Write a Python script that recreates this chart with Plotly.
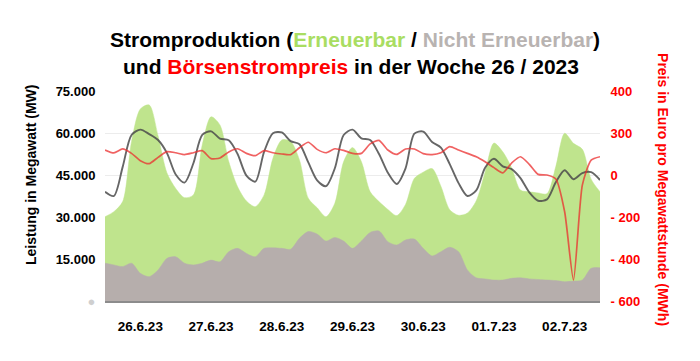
import pandas as pd
import plotly.graph_objects as go

# time axis: 3-hourly samples, week 26 / 2023
times = pd.date_range("2023-06-26 00:00", "2023-07-03 00:00", freq="3h")

day_ticks = pd.date_range("2023-06-26 12:00", periods=7, freq="D")
day_labels = ["26.6.23", "27.6.23", "28.6.23", "29.6.23", "30.6.23", "01.7.23", "02.7.23"]

# total production (renewable + non-renewable), thousand MW
total_k = [30.1, 31.9, 35.5, 56.9, 68.6, 70.0, 59.0, 45.8, 40.2, 36.9, 37.9, 55.7, 65.8, 62.9,
           49.8, 40.8, 35.7, 33.7, 37.9,
           51.0, 57.5, 57.0, 50.4, 36.7, 33.3, 30.1, 34.9, 49.8, 54.8, 49.8, 39.0, 35.5, 32.7,
           30.5, 34.5, 43.8, 46.0,
           47.3, 41.0, 32.6, 30.6, 31.4, 35.8, 46.0, 56.4, 53.3, 47.6, 39.6, 39.0, 38.6, 38.3,
           48.0, 59.9, 56.3, 54.2, 43.5, 39.0]

# non-renewable production, thousand MW
nonren_k = [13.5, 12.9, 12.3, 13.5, 9.9, 8.7, 11.1, 15.2, 15.8, 13.5, 12.9, 13.5, 14.6, 14.0,
            17.6, 18.8, 17.0, 15.8, 18.8,
            19.0, 18.8, 18.5, 22.4, 24.8, 23.9, 21.4, 22.7, 21.4, 18.8, 21.4, 24.5, 25.0, 21.2,
            20.0, 21.8, 22.1, 18.8,
            16.1, 17.6, 19.2, 17.6, 11.1, 8.3, 7.9, 7.5, 7.5, 8.1, 8.3, 7.9, 7.7, 7.5,
            7.3, 6.9, 7.1, 7.5, 11.7, 11.9]

# load / consumption, thousand MW
load_k = [39.0, 37.5, 47.9, 59.3, 61.2, 59.6, 57.5, 52.9, 45.2, 42.3, 49.2, 59.3, 60.6, 58.0,
          57.4, 52.5, 44.8, 42.6, 53.3,
          59.9, 60.2, 57.1, 56.0, 49.5, 43.1, 41.0, 47.4, 59.3, 61.2, 58.1, 57.5, 52.5, 45.8,
          41.8, 47.4, 59.8, 60.5,
          56.8, 54.8, 48.9, 42.1, 37.5, 39.5, 47.6, 50.8, 48.1, 47.1, 43.9, 38.8, 35.8, 36.3,
          42.4, 46.7, 43.5, 45.7, 46.0, 43.2]

# day-ahead price, EUR/MWh
price = [119, 105, 124, 103, 68, 54, 84, 111, 106, 97, 106, 116, 78, 81,
         110, 125, 103, 92, 116,
         106, 100, 97, 130, 156, 122, 106, 125, 117, 103, 103, 148, 165, 119,
         98, 124, 124, 102,
         97, 106, 135, 119, 103, 87, 63, 35, 10, 57, 87, 51, 3, 0,
         -19, -175, -500, -48, 71, 87]

left_ticks = [0, 15000, 30000, 45000, 60000, 75000]
left_labels = ['<span style="color:#cfcfcf">●</span>', "15.000", "30.000", "45.000", "60.000", "75.000"]
right_ticks = [-600, -400, -200, 0, 200, 400]
right_labels = ["- 600", "- 400", "- 200", "0", "300", "400"]

total = [v * 1000 for v in total_k]
nonren = [v * 1000 for v in nonren_k]
load = [v * 1000 for v in load_k]

FONT = "Liberation Sans, Arial, sans-serif"
GREEN = "rgb(191,228,141)"
GRAY = "rgb(182,174,172)"

fig = go.Figure()
fig.add_trace(go.Scatter(x=times, y=total, mode="lines", fill="tozeroy",
                         line=dict(color=GREEN, width=0.5, shape="spline", smoothing=0.8),
                         fillcolor=GREEN, hoverinfo="skip", showlegend=False))
fig.add_trace(go.Scatter(x=times, y=nonren, mode="lines", fill="tozeroy",
                         line=dict(color=GRAY, width=0.5, shape="spline", smoothing=0.8),
                         fillcolor=GRAY, hoverinfo="skip", showlegend=False))
fig.add_trace(go.Scatter(x=times, y=load, mode="lines",
                         line=dict(color="rgba(75,75,75,0.85)", width=1.9, shape="spline", smoothing=0.8),
                         showlegend=False))
fig.add_trace(go.Scatter(x=times, y=price, mode="lines", yaxis="y2",
                         line=dict(color="rgba(235,45,45,0.75)", width=1.7, shape="spline", smoothing=0.6),
                         showlegend=False))

fig.update_layout(
    width=700, height=361, autosize=False,
    margin=dict(l=105, r=100, t=91, b=60),
    paper_bgcolor="white", plot_bgcolor="white",
    font=dict(family=FONT, color="black"),
    xaxis=dict(type="date", range=[times[0], times[-1]], automargin=False,
               tickvals=list(day_ticks), ticktext=day_labels,
               tickfont=dict(size=13.5, family=FONT, color="black", weight="bold"),
               showgrid=False, zeroline=False,
               showline=True, linecolor="rgb(140,140,140)", linewidth=2,
               ticks="outside", ticklen=12, tickcolor="rgba(0,0,0,0)"),
    yaxis=dict(range=[0, 75000], tickvals=left_ticks, ticktext=left_labels, automargin=False,
               tickfont=dict(size=13, family=FONT, color="black", weight="bold"),
               showgrid=True, gridcolor="rgb(236,236,236)", gridwidth=1,
               zeroline=False, showline=False,
               ticks="outside", ticklen=6, tickcolor="rgba(0,0,0,0)"),
    yaxis2=dict(range=[-600, 400], overlaying="y", side="right", automargin=False,
                tickvals=right_ticks, ticktext=right_labels,
                tickfont=dict(size=13, family=FONT, color="red", weight="bold"),
                showgrid=False, zeroline=False, showline=False,
                ticks="outside", ticklen=7, tickcolor="rgba(0,0,0,0)"),
    annotations=[
        dict(xref="paper", yref="paper", x=0.505, y=1.243, xanchor="center", yanchor="middle",
             showarrow=False, font=dict(size=21, family=FONT, color="black"),
             text='<b>Stromproduktion (<span style="color:#a9dd62">Erneuerbar</span> / '
                  '<span style="color:#b8b3b1">Nicht Erneuerbar</span>)</b>'),
        dict(xref="paper", yref="paper", x=0.497, y=1.119, xanchor="center", yanchor="middle",
             showarrow=False, font=dict(size=21, family=FONT, color="black"),
             text='<b>und <span style="color:#ff0000">Börsenstrompreis</span> in der Woche 26 / 2023</b>'),
        dict(xref="paper", yref="paper", x=-0.1495, y=0.6, xanchor="center", yanchor="middle",
             showarrow=False, textangle=-90, font=dict(size=14, family=FONT, color="black"),
             text="<b>Leistung in Megawatt (MW)</b>"),
        dict(xref="paper", yref="paper", x=1.127, y=0.529, xanchor="center", yanchor="middle",
             showarrow=False, textangle=90, font=dict(size=14, family=FONT, color="red"),
             text="<b>Preis in Euro pro Megawattstunde (MWh)</b>"),
    ],
)

fig.write_html("out.html", config={"displayModeBar": False},
               post_script="document.body.style.margin='0';")
